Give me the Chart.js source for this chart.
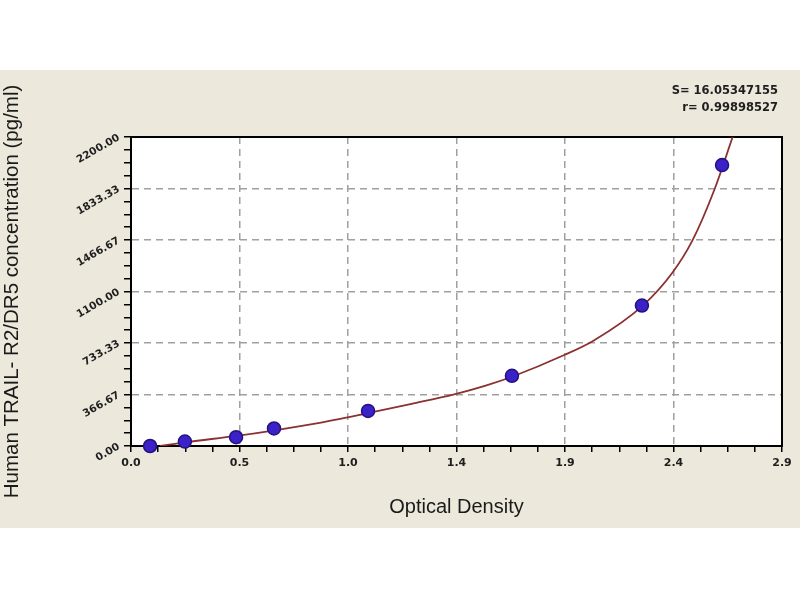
<!DOCTYPE html>
<html lang="en">
<head>
    <meta charset="UTF-8">
    <title>Standard curve</title>
    <script src="https://cdn.jsdelivr.net/npm/chart.js"></script>
    <style>
        body { margin: 0; background: #fff; }
    </style>
</head>
<body>
    <canvas id="myChart" width="800" height="600"></canvas>
<script>
    // standards (OD, concentration)
    const odValues = [0.085, 0.24, 0.468, 0.637, 1.056, 1.697, 2.276, 2.633];
    const concValues = [0, 31.25, 62.5, 125, 250, 500, 1000, 2000];

    // fitted curve
    const curveOd = [0.13, 0.25, 0.47, 0.64, 0.84, 1.06, 1.25, 1.44, 1.58, 1.70, 1.93, 2.06, 2.28, 2.41, 2.50, 2.60, 2.68];
    const curveConc = [0, 28, 72, 112, 165, 235, 300, 368, 430, 495, 648, 750, 1000, 1230, 1460, 1830, 2200];

    const xTickLabels = ['0.0', '0.5', '1.0', '1.4', '1.9', '2.4', '2.9'];
    const yTickLabels = ['0.00', '366.67', '733.33', '1100.00', '1466.67', '1833.33', '2200.00'];
    const xMax = 2.9;
    const yMax = 2200;

    const fitS = 'S= 16.05347155';
    const fitR = 'r= 0.99898527';

    const minorPerMajor = 4;

    function buildTicks(max, majors) {
        const n = (majors - 1) * minorPerMajor;
        const ticks = [];
        for (let i = 0; i <= n; i++) {
            ticks.push({ value: Math.min(max, i * max / n), major: i % minorPerMajor === 0 });
        }
        return ticks;
    }

    const bgPlugin = {
        id: 'bg',
        beforeDraw(chart) {
            const ctx = chart.ctx, a = chart.chartArea;
            ctx.save();
            ctx.fillStyle = '#ffffff';
            ctx.fillRect(0, 0, chart.width, chart.height);
            ctx.fillStyle = '#ece9dc';
            ctx.fillRect(0, 70, chart.width, 458);
            ctx.fillStyle = '#ffffff';
            ctx.fillRect(a.left, a.top, a.right - a.left, a.bottom - a.top);
            ctx.restore();
        },
        beforeDatasetsDraw(chart) {
            const ctx = chart.ctx, a = chart.chartArea;
            ctx.save();
            ctx.strokeStyle = '#000';
            ctx.lineWidth = 2;
            ctx.strokeRect(a.left, a.top, a.right - a.left, a.bottom - a.top);
            ctx.restore();
        },
        afterDraw(chart) {
            const ctx = chart.ctx;
            ctx.save();
            ctx.font = 'bold 11.5px "DejaVu Sans"';
            ctx.fillStyle = '#1e1e1e';
            ctx.textAlign = 'right';
            ctx.textBaseline = 'middle';
            ctx.fillText(fitS, 778, 91);
            ctx.fillText(fitR, 778, 108);
            ctx.restore();
        }
    };

    const gridColor = c => (c.tick && c.tick.major) ? '#a0a0a0' : 'rgba(0,0,0,0)';

    const config = {
        type: 'scatter',
        data: {
            datasets: [{
                label: 'Standards',
                data: odValues.map((v, i) => ({ x: v, y: concValues[i] })),
                pointRadius: 6.5,
                pointBackgroundColor: '#3a22c8',
                pointBorderColor: '#23127e',
                pointBorderWidth: 1.5,
                clip: false
            }, {
                label: 'Fit',
                data: curveOd.map((v, i) => ({ x: v, y: curveConc[i] })),
                showLine: true,
                pointRadius: 0,
                borderColor: '#8c3030',
                borderWidth: 1.8,
                cubicInterpolationMode: 'monotone'
            }]
        },
        options: {
            responsive: false,
            animation: false,
            devicePixelRatio: 1,
            layout: { padding: { left: 0, right: 18, top: 137, bottom: 0 } },
            plugins: { legend: { display: false }, tooltip: { enabled: false } },
            scales: {
                x: {
                    type: 'linear',
                    min: 0,
                    max: xMax,
                    afterBuildTicks: s => { s.ticks = buildTicks(xMax, xTickLabels.length); },
                    afterFit: s => { s.height = 154; },
                    grid: { color: gridColor, lineWidth: 1.5, tickColor: '#000', tickWidth: 1.5, tickLength: 6 },
                    border: { display: true, color: '#000', width: 2, dash: [7, 5] },
                    ticks: {
                        autoSkip: false,
                        maxRotation: 0,
                        padding: 5,
                        color: '#1e1e1e',
                        font: { family: 'DejaVu Sans', size: 11, weight: 'bold' },
                        callback: (v, i) => i % minorPerMajor === 0 ? xTickLabels[i / minorPerMajor] : ''
                    },
                    title: {
                        display: true,
                        text: 'Optical Density',
                        color: '#1a1a1a',
                        font: { family: 'Liberation Sans', size: 20, lineHeight: 1.2 },
                        padding: { top: 0, bottom: 81 }
                    }
                },
                y: {
                    type: 'linear',
                    min: 0,
                    max: yMax,
                    afterBuildTicks: s => { s.ticks = buildTicks(yMax, yTickLabels.length); },
                    afterFit: s => { s.width = 131; },
                    grid: { color: gridColor, lineWidth: 1.5, tickColor: '#000', tickWidth: 1.5, tickLength: 7 },
                    border: { display: true, color: '#000', width: 2, dash: [7, 5] },
                    ticks: {
                        autoSkip: false,
                        minRotation: 30,
                        maxRotation: 30,
                        padding: 5,
                        color: '#1e1e1e',
                        font: { family: 'DejaVu Sans', size: 10.5, weight: 'bold' },
                        callback: (v, i) => i % minorPerMajor === 0 ? yTickLabels[i / minorPerMajor] : ''
                    },
                    title: {
                        display: true,
                        text: 'Human TRAIL- R2/DR5 concentration (pg/ml)',
                        color: '#1a1a1a',
                        font: { family: 'Liberation Sans', size: 20.5, lineHeight: 1.2 },
                        padding: { top: 0, bottom: 0 }
                    }
                }
            }
        },
        plugins: [bgPlugin]
    };

    const myChart = new Chart(document.querySelector('#myChart'), config);
</script>
</body>
</html>
